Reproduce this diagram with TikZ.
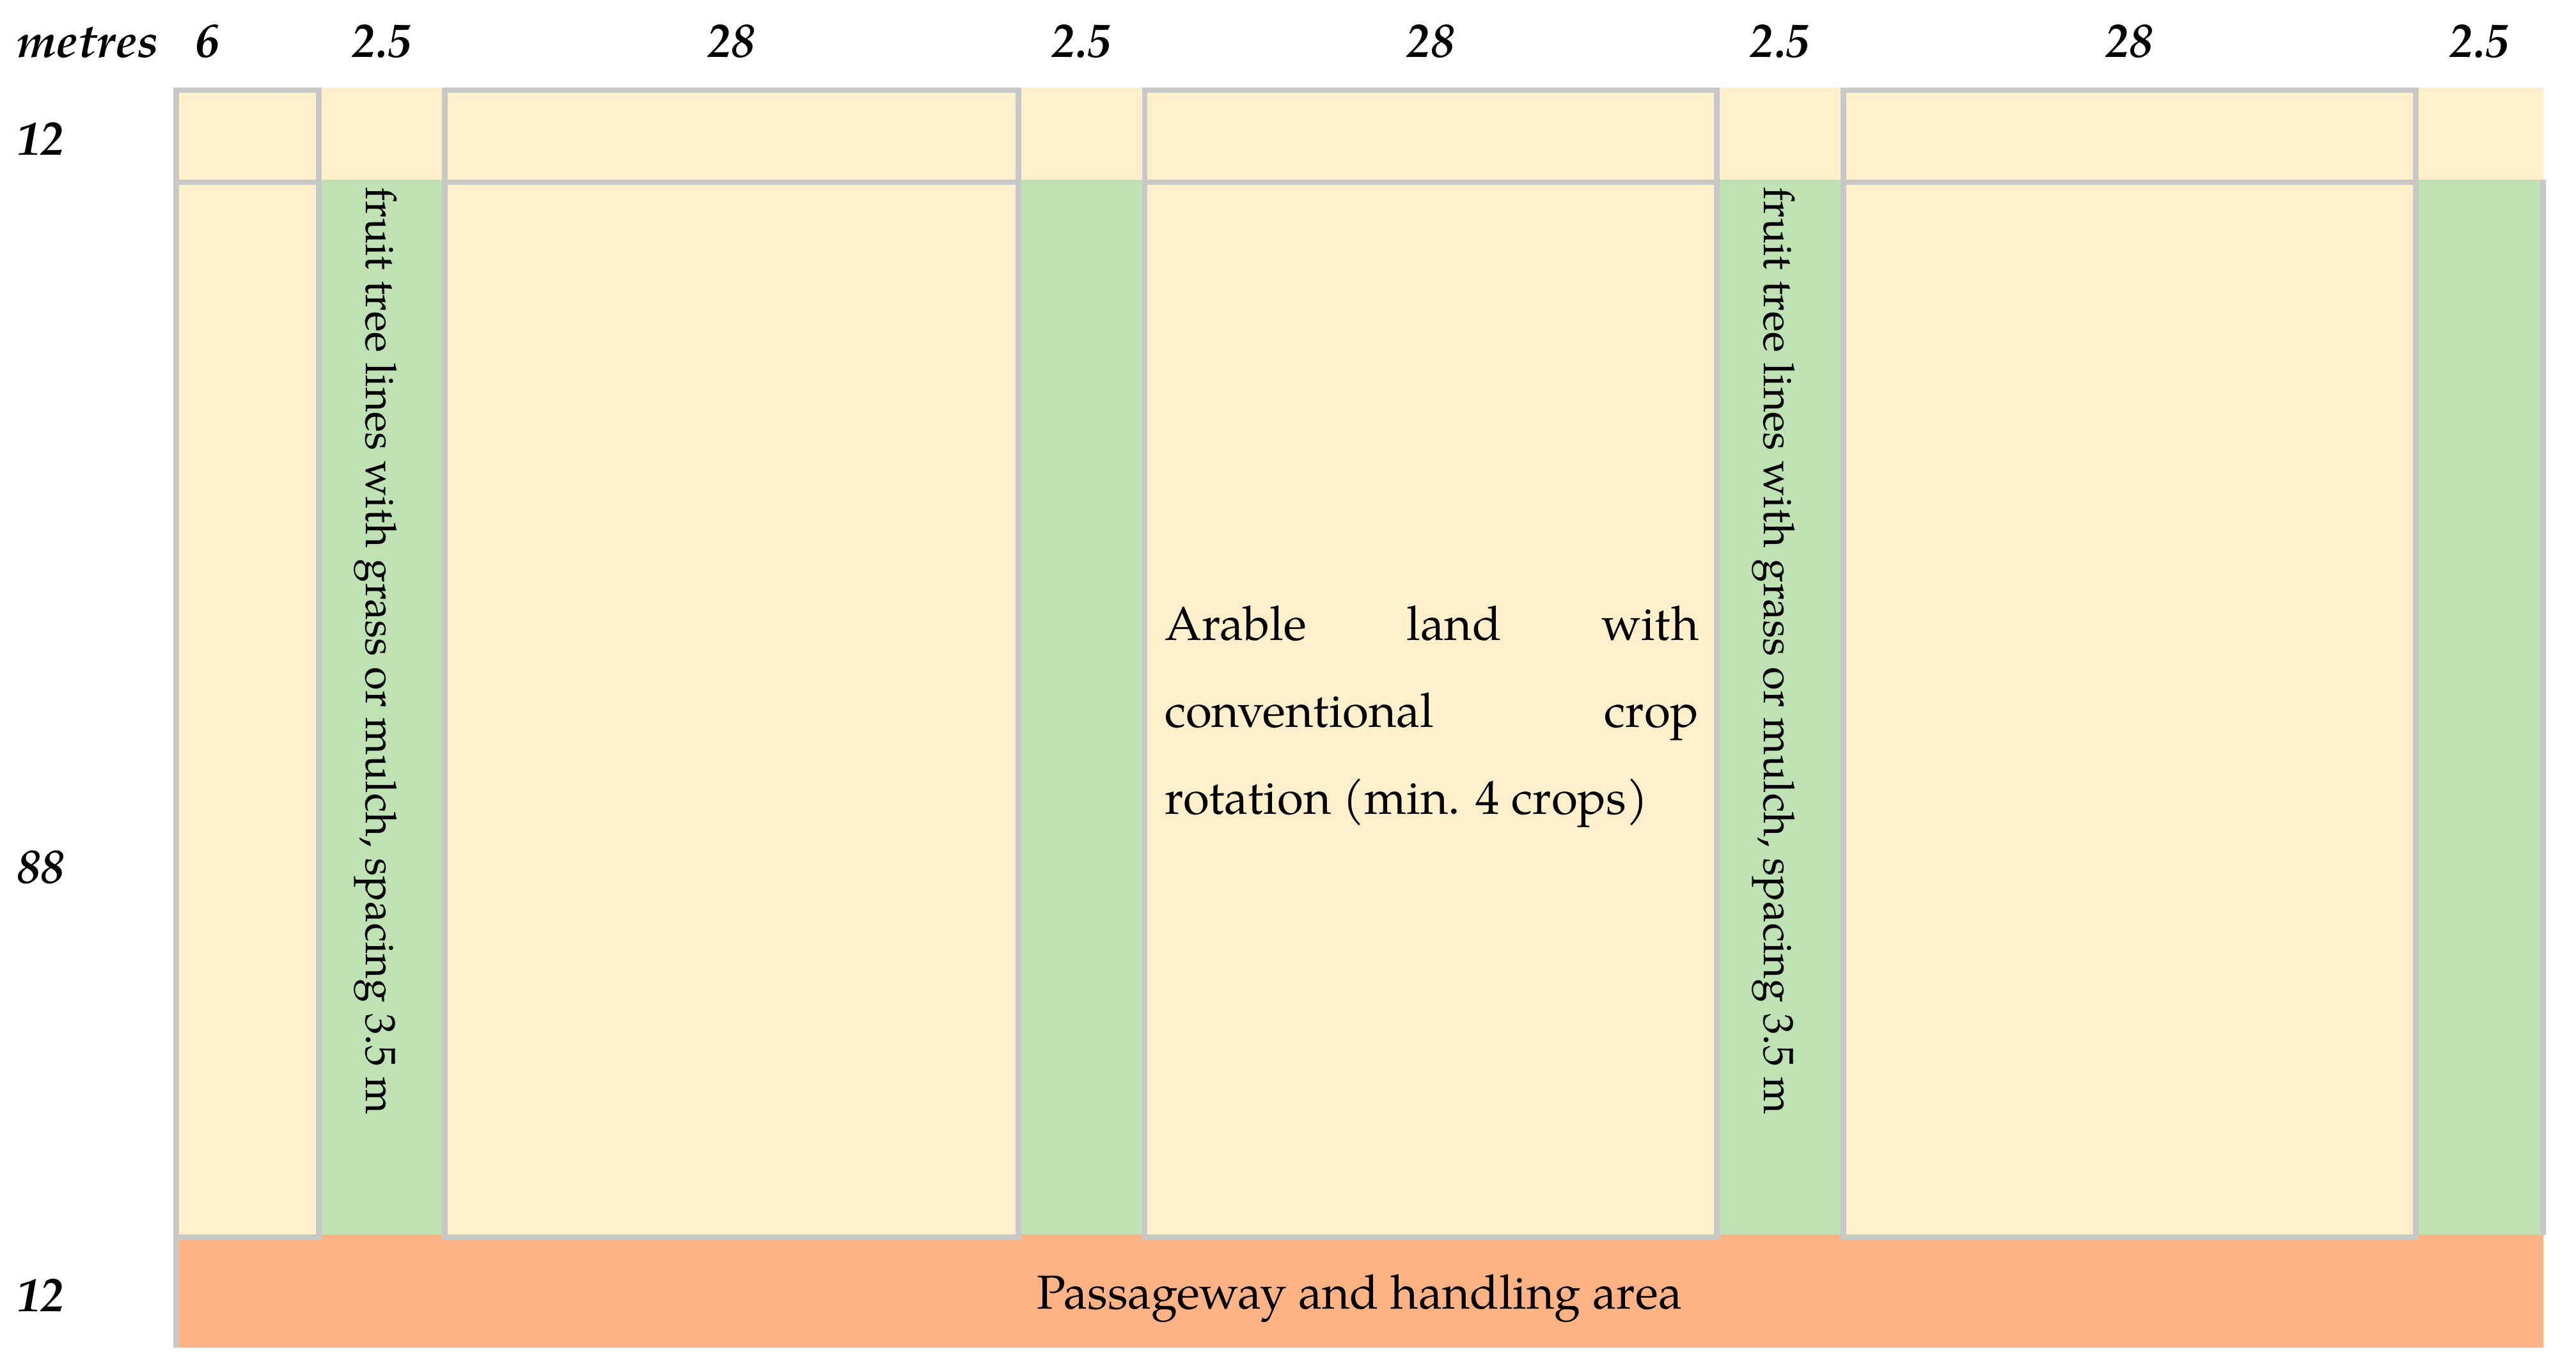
\documentclass[tikz,border=0pt]{standalone}
\usepackage{fontspec}
\setmainfont{TeX Gyre Pagella}
\definecolor{beige}{HTML}{FFF0CB}
\definecolor{treegreen}{HTML}{BEE2B3}
\definecolor{passorange}{HTML}{FFB283}
\definecolor{bordergray}{HTML}{C8C8C8}
\tikzset{
  cell/.style={fill=beige, draw=bordergray, line width=1.65pt},
  edge/.style={draw=bordergray, line width=1.65pt},
  hdr/.style={font=\fontsize{14.5}{17}\selectfont\bfseries\itshape, inner sep=0pt, anchor=base},
  lbl/.style={hdr, anchor=base west},
  body/.style={font=\fontsize{14.5}{17}\selectfont, inner sep=0pt},
  strip/.style={font=\fontsize{12.95}{15}\selectfont, inner sep=0pt, rotate=-90, anchor=base west},
}
\begin{document}
\begin{tikzpicture}[x=0.5pt,y=-0.5pt]
\useasboundingbox (0,0) rectangle (1568,834);
% backgrounds
\fill[beige] (105.6,53.25) rectangle (1548,111);
\fill[treegreen] (194,109.4) rectangle (1548,753);
\fill[passorange] (105.6,751.6) rectangle (1548,820.6);
% top row cells
\path[cell] (107.3,54.9) rectangle (194,111);
\path[cell] (270.7,54.9) rectangle (620,111);
\path[cell] (696.7,54.9) rectangle (1045,111);
\path[cell] (1122,54.9) rectangle (1470.4,111);
% main row cells
\path[cell] (107.3,111) rectangle (194,753.2);
\path[cell] (270.7,111) rectangle (620,753.2);
\path[cell] (696.7,111) rectangle (1045,753.2);
\path[cell] (1122,111) rectangle (1470.4,753.2);
% single edges
\path[edge] (107.3,753) -- (107.3,820.6);
\path[edge] (1547.9,109.4) -- (1547.9,752);
% header
\node[lbl] (metres) at (10,34.8) {metres};
\node[hdr] (h1) at (126,34.8) {6};
\node[hdr] (h2) at (232.3,34.8) {2.5};
\node[hdr] (h3) at (445.3,34.8) {28};
\node[hdr] (h4) at (658.3,34.8) {2.5};
\node[hdr] (h5) at (870.8,34.8) {28};
\node[hdr] (h6) at (1083.5,34.8) {2.5};
\node[hdr] (h7) at (1296.2,34.8) {28};
\node[hdr] (h8) at (1509.2,34.8) {2.5};
% row labels
\node[lbl] (r1) at (10,94.5) {12};
\node[lbl] (r2) at (10,537.8) {88};
\node[lbl] (r3) at (10,798.7) {12};
% texts
\node[body, anchor=base] (pass) at (827.5,797) {Passageway and handling area};
\node[body, anchor=base west] (arable) at (708.5,390) {\parbox[t]{162.6pt}{\fontsize{14.5}{26.45}\selectfont Arable\hfill land\hfill with\\ conventional\hfill crop\\ rotation (min. 4 crops)}};
\node[strip] (s1) at (222.8,113.5) {fruit tree lines with grass or mulch, spacing 3.5 m};
\node[strip] (s2) at (1073.7,113.5) {fruit tree lines with grass or mulch, spacing 3.5 m};
\end{tikzpicture}
\end{document}
